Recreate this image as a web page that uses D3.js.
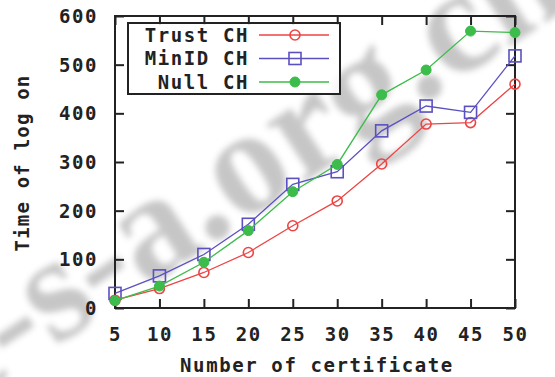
<!DOCTYPE html>
<html>
<head>
<meta charset="utf-8">
<script src="https://cdn.jsdelivr.net/npm/d3@7"></script>
<style>
  html, body { margin: 0; padding: 0; background: #fff; }
  svg text.lbl { font-family: "DejaVu Sans Mono", "Liberation Mono", monospace; font-weight: bold; }
</style>
</head>
<body>
<svg id="chart" width="555" height="377"></svg>
<script>
// Number of certificates on the x axis
const certificates = [5, 10, 15, 20, 25, 30, 35, 40, 45, 50];
// Time of log on for each scheme
const trustCH = [16, 40, 73, 114, 169, 220, 296, 378, 381, 460];
const minIdCH = [30, 66, 110, 172, 254, 280, 364, 415, 402, 518];
const nullCH  = [15, 45, 94, 159, 239, 295, 438, 489, 569, 566];
const yTicks = [0, 100, 200, 300, 400, 500, 600];
const seriesNames = ["Trust CH", "MinID CH", "Null CH"];

const series = [
  { name: seriesNames[0], values: trustCH, color: "#ee4444", marker: "ocircle" },
  { name: seriesNames[1], values: minIdCH, color: "#5a50c0", marker: "osquare" },
  { name: seriesNames[2], values: nullCH,  color: "#3cbc4a", marker: "fcircle" }
];

const svg = d3.select("#chart");
const margin = { left: 115, top: 16, right: 40, bottom: 69 };
const W = 555, H = 377;
const x = d3.scaleLinear().domain([5, 50]).range([margin.left, W - margin.right]);
const y = d3.scaleLinear().domain([0, 600]).range([H - margin.bottom, margin.top]);

// large soft diagonal site mark behind everything
const defs = svg.append("defs");
defs.append("filter").attr("id", "soft")
  .append("feGaussianBlur").attr("stdDeviation", 3);
svg.append("g")
  .attr("transform", "translate(60,302) rotate(-33.5)")
  .append("text")
  .attr("x", -146).attr("y", 35)
  .style("font-family", "Liberation Serif, DejaVu Serif, serif")
  .style("font-weight", "bold")
  .style("font-size", "150px")
  .attr("fill", "#8a8a8a")
  .attr("opacity", 0.48)
  .attr("filter", "url(#soft)")
  .text("c-s-a.org.cn");

const fontSize = 19;
const spacing = "1.6px";

// frame
svg.append("rect")
  .attr("x", x(5)).attr("y", y(600))
  .attr("width", x(50) - x(5)).attr("height", y(0) - y(600))
  .attr("fill", "none").attr("stroke", "#222").attr("stroke-width", 2);

// axes with mirrored inward ticks
const tickLen = 9;
const axBottom = svg.append("g").attr("transform", `translate(0,${y(0)})`)
  .call(d3.axisBottom(x).tickValues(certificates).tickSize(-tickLen).tickPadding(17).tickFormat(d3.format("d")));
const axTop = svg.append("g").attr("transform", `translate(0,${y(600)})`)
  .call(d3.axisTop(x).tickValues(certificates).tickSize(-tickLen).tickFormat(""));
const axLeft = svg.append("g").attr("transform", `translate(${x(5)},0)`)
  .call(d3.axisLeft(y).tickValues(yTicks).tickSize(-tickLen).tickPadding(17).tickFormat(d3.format("d")));
const axRight = svg.append("g").attr("transform", `translate(${x(50)},0)`)
  .call(d3.axisRight(y).tickValues(yTicks).tickSize(-tickLen).tickFormat(""));

[axBottom, axTop, axLeft, axRight].forEach(g => {
  g.select(".domain").remove();
  g.selectAll(".tick line").attr("stroke", "#222").attr("stroke-width", 2);
  g.selectAll(".tick text")
    .attr("class", "lbl")
    .attr("fill", "#222")
    .style("font-size", fontSize + "px")
    .style("letter-spacing", spacing);
});
axBottom.selectAll(".tick text").attr("dy", "0.85em");
axLeft.selectAll(".tick text").attr("dy", "0.35em");

// axis titles
svg.append("text").attr("class", "lbl")
  .attr("x", (x(5) + x(50)) / 2 + 2).attr("y", 372)
  .attr("text-anchor", "middle")
  .style("font-size", fontSize + "px").style("letter-spacing", spacing)
  .attr("fill", "#222")
  .text("Number of certificate");
svg.append("text").attr("class", "lbl")
  .attr("transform", "translate(29,163) rotate(-90)")
  .attr("text-anchor", "middle")
  .style("font-size", fontSize + "px").style("letter-spacing", "1.2px")
  .attr("fill", "#222")
  .text("Time of log on");

// lines and markers
const line = d3.line().x((d, i) => x(certificates[i])).y(d => y(d));

function drawMarker(g, type, color, cx, cy) {
  if (type === "ocircle") {
    g.append("circle").attr("cx", cx).attr("cy", cy).attr("r", 5)
      .attr("fill", "none").attr("stroke", color).attr("stroke-width", 1.6);
  } else if (type === "osquare") {
    g.append("rect").attr("x", cx - 6).attr("y", cy - 6).attr("width", 12).attr("height", 12)
      .attr("fill", "none").attr("stroke", color).attr("stroke-width", 1.6);
  } else {
    g.append("circle").attr("cx", cx).attr("cy", cy).attr("r", 5)
      .attr("fill", color).attr("stroke", color).attr("stroke-width", 1);
  }
}

series.forEach(s => {
  svg.append("path")
    .datum(s.values)
    .attr("d", line)
    .attr("fill", "none")
    .attr("stroke", s.color)
    .attr("stroke-width", 1.3);
  const g = svg.append("g");
  s.values.forEach((v, i) => drawMarker(g, s.marker, s.color, x(certificates[i]), y(v)));
});

// legend
const legend = svg.append("g");
legend.append("rect")
  .attr("x", 128).attr("y", 23).attr("width", 212).attr("height", 71)
  .attr("fill", "#fff").attr("fill-opacity", 0.85).attr("stroke", "#222").attr("stroke-width", 2);
series.forEach((s, i) => {
  const ly = 35 + i * 23.5;
  legend.append("text").attr("class", "lbl")
    .attr("x", 249).attr("y", ly).attr("dy", "0.35em")
    .attr("text-anchor", "end")
    .style("font-size", fontSize + "px").style("letter-spacing", spacing)
    .attr("fill", "#222")
    .text(s.name);
  legend.append("line")
    .attr("x1", 259).attr("x2", 329).attr("y1", ly).attr("y2", ly)
    .attr("stroke", s.color).attr("stroke-width", 1.3);
  drawMarker(legend, s.marker, s.color, 295, ly);
});
</script>
</body>
</html>
